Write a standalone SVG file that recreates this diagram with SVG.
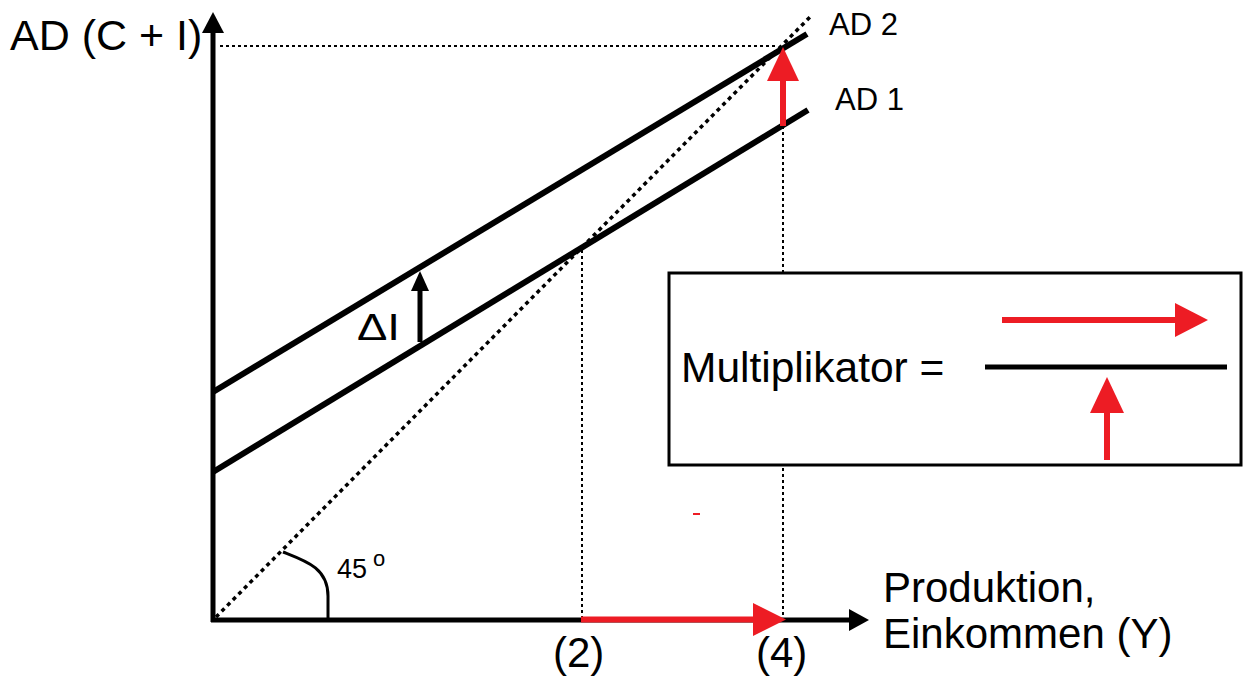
<svg xmlns="http://www.w3.org/2000/svg" width="1244" height="677" viewBox="0 0 1244 677">
  <style>
    .txt { font-family: "Liberation Sans", Arial, sans-serif; fill: #000; }
    .axis { stroke: #000; stroke-width: 5; fill: none; }
    .curve { stroke: #000; stroke-width: 6; fill: none; }
    .dot { stroke: #000; stroke-width: 2; stroke-dasharray: 3 3; fill: none; }
    .dot45 { stroke: #000; stroke-width: 3.5; stroke-dasharray: 4 4; fill: none; }
    .red { stroke: #ed1c24; stroke-width: 6; fill: none; }
  </style>
  <rect width="1244" height="677" fill="#fff"/>

  <!-- guide lines -->
  <g id="guides">
    <line class="dot" x1="220" y1="46" x2="778" y2="46"/>
    <line class="dot" x1="582" y1="250" x2="582" y2="618"/>
    <line class="dot" x1="783" y1="126" x2="783" y2="618"/>
    <line class="dot45" x1="216" y1="617" x2="812" y2="15"/>
  </g>

  <!-- aggregate demand curves -->
  <g id="ad-curves">
    <line class="curve" x1="213" y1="392" x2="807" y2="34"/>
    <line class="curve" x1="213" y1="472" x2="808" y2="110"/>
  </g>

  <!-- axes -->
  <g id="axes">
    <line class="axis" x1="213" y1="622" x2="213" y2="30"/>
    <polygon points="213,12 202,33 224,33" fill="#000"/>
    <line class="axis" x1="211" y1="620" x2="852" y2="620"/>
    <polygon points="869,620 849,609 849,631" fill="#000"/>
  </g>

  <!-- 45 degree angle mark -->
  <g id="angle">
    <path d="M283,552 C306,561 328,568 328,596 L328,620" stroke="#000" stroke-width="3" fill="none"/>
    <text class="txt" x="337" y="578" font-size="27">45</text>
    <text class="txt" x="373" y="566" font-size="22">o</text>
  </g>

  <!-- connectors -->
  <g id="connectors">
    <!-- delta I -->
    <line x1="420" y1="342" x2="420" y2="289" stroke="#000" stroke-width="5"/>
    <polygon points="420,271 411,291 429,291" fill="#000"/>
    <!-- red vertical shift -->
    <line class="red" x1="783" y1="126" x2="783" y2="78"/>
    <polygon points="783,47 767,81 799,81" fill="#ed1c24"/>
    <!-- red horizontal shift -->
    <line class="red" x1="581" y1="619.5" x2="756" y2="619.5"/>
    <polygon points="786,619.5 753,603 753,636" fill="#ed1c24"/>
  </g>

  <!-- labels -->
  <g id="labels">
    <text class="txt" x="10" y="50" font-size="43">AD (C + I)</text>
    <text class="txt" x="829" y="35" font-size="31">AD 2</text>
    <text class="txt" x="835" y="110" font-size="31">AD 1</text>
    <text class="txt" x="357" y="340" font-size="36" textLength="43" lengthAdjust="spacingAndGlyphs">ΔI</text>
    <text class="txt" x="883" y="602" font-size="42">Produktion,</text>
    <text class="txt" x="883" y="648" font-size="42">Einkommen (Y)</text>
    <text class="txt" x="553" y="667" font-size="42">(2)</text>
    <text class="txt" x="756" y="667" font-size="42">(4)</text>
  </g>

  <!-- multiplier box -->
  <g id="multiplier">
    <rect x="669" y="273" width="572" height="192" fill="#fff" stroke="#000" stroke-width="3"/>
    <text class="txt" x="681" y="382" font-size="42.5">Multiplikator =</text>
    <line x1="985" y1="367" x2="1227" y2="367" stroke="#000" stroke-width="5"/>
    <line class="red" x1="1002" y1="320" x2="1178" y2="320"/>
    <polygon points="1208,320 1175,303 1175,337" fill="#ed1c24"/>
    <line class="red" x1="1107" y1="460" x2="1107" y2="410"/>
    <polygon points="1107,377 1090,413 1124,413" fill="#ed1c24"/>
  </g>

  <!-- small red mark -->
  <line x1="693" y1="514" x2="700" y2="514" stroke="#ed1c24" stroke-width="2"/>
</svg>
